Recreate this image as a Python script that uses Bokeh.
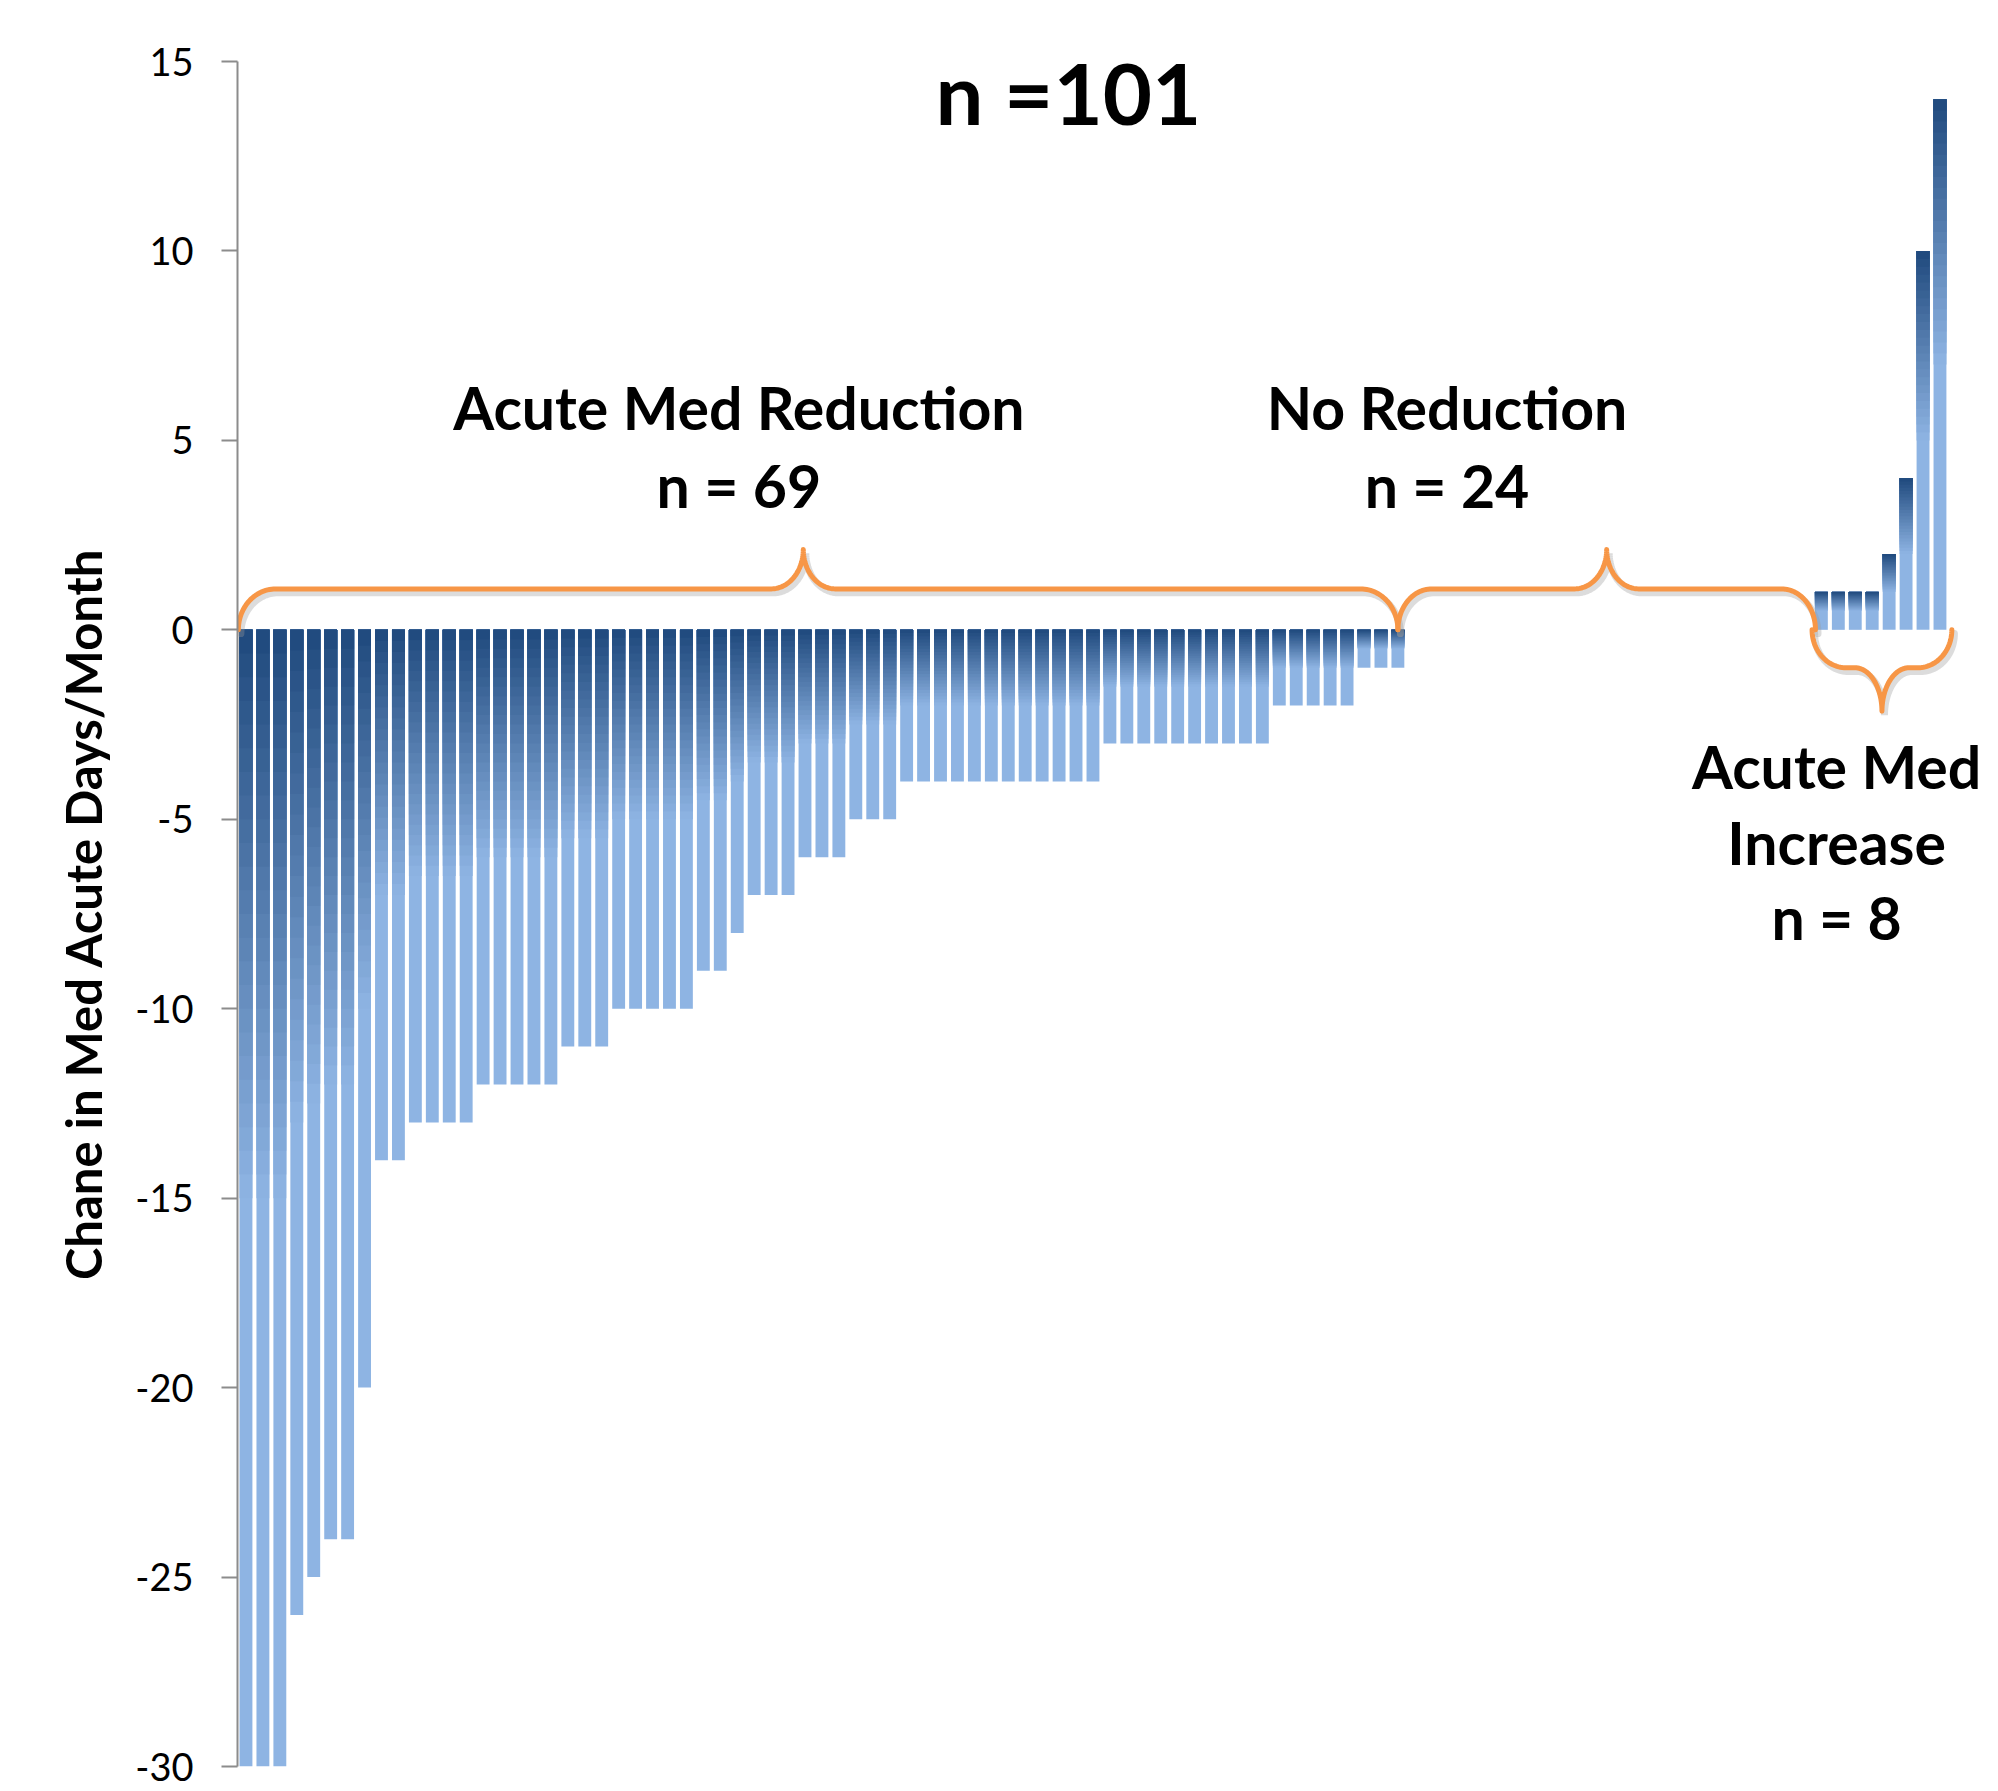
import numpy as np
from bokeh.plotting import figure
from bokeh.models import Range1d, FixedTicker, Label
from bokeh.embed import file_html
from bokeh.resources import INLINE

# ---------------- data ----------------
reduction_values = ([-30] * 3 + [-26, -25] + [-24] * 2 + [-20] + [-14] * 2 + [-13] * 4 +
                    [-12] * 5 + [-11] * 3 + [-10] * 5 + [-9] * 2 + [-8] + [-7] * 3 +
                    [-6] * 3 + [-5] * 3 + [-4] * 12 + [-3] * 10 + [-2] * 5 + [-1] * 3)
no_change_values = [0] * 24
increase_values = [1, 1, 1, 1, 2, 4, 10, 14]
values = reduction_values + no_change_values + increase_values

y_ticks = [-30, -25, -20, -15, -10, -5, 0, 5, 10, 15]
y_tick_labels = ["-30", "-25", "-20", "-15", "-10", "-5", "0", "5", "10", "15"]
title_text = "n =101"
y_label = "Chane in Med Acute Days/Month"
group_labels = [["Acute Med Reduction", "n = 69"],
                ["No Reduction", "n = 24"],
                ["Acute Med", "Increase", "n = 8"]]

# ---------------- style ----------------
DARK = np.array([31, 73, 125])
LIGHT = np.array([142, 180, 227])
BRACE = "#F79646"
FONT = "Lato"
BAR_W = 0.76
N_SLICES = 24
PX_X = 16.94  # px per category
FRAME_LEFT, FRAME_TOP, FRAME_BOTTOM = 237, 61, 25
W, H = 1998, 1791

def hexcol(c):
    c = np.clip(np.round(c), 0, 255).astype(int)
    return "#%02x%02x%02x" % tuple(c)

p = figure(width=W, height=H, output_backend="svg", toolbar_location=None,
           x_range=Range1d(0, (W - FRAME_LEFT) / PX_X), y_range=Range1d(-30, 15),
           x_axis_location=None, min_border_left=FRAME_LEFT, min_border_right=0,
           min_border_top=FRAME_TOP, min_border_bottom=FRAME_BOTTOM)
p.outline_line_color = None
p.xgrid.visible = False
p.ygrid.visible = False
p.background_fill_color = "white"
p.border_fill_color = "white"

# ---------------- bars with vertical gradient ----------------
L, R, T, B, C = [], [], [], [], []
for i, v in enumerate(values):
    if v == 0:
        continue
    top, bot = max(v, 0), min(v, 0)
    length = top - bot
    cx = i + 0.5
    L.append(cx - BAR_W / 2); R.append(cx + BAR_W / 2); T.append(top); B.append(bot)
    C.append(hexcol(LIGHT))
    for k in range(N_SLICES):
        t = 1 - (k + 0.5) / N_SLICES  # 1 = light, 0 = dark
        depth = 0.5 * length * (1 - k / N_SLICES)
        L.append(cx - BAR_W / 2); R.append(cx + BAR_W / 2); T.append(top); B.append(top - depth)
        C.append(hexcol(DARK + (LIGHT - DARK) * t))
p.quad(left=L, right=R, top=T, bottom=B, fill_color=C, line_color=None)

# ---------------- braces ----------------
def brace(x0, x1, xt, y_end, y_line, y_tip, rx=2.0, rx_tip=2.0, n=30):
    xs, ys = [], []
    th = np.linspace(0, np.pi / 2, n)
    ry = y_line - y_end
    xs += list(x0 + rx - rx * np.cos(th)); ys += list(y_end + ry * np.sin(th))
    ryt = y_tip - y_line
    xs += list(xt - rx_tip + rx_tip * np.sin(th)); ys += list(y_tip - ryt * np.cos(th))
    xs += list(xt + rx_tip - rx_tip * np.sin(th[::-1])); ys += list(y_tip - ryt * np.cos(th[::-1]))
    xs += list(x1 - rx + rx * np.cos(th[::-1])); ys += list(y_end + ry * np.sin(th[::-1]))
    return xs, ys

n_red = len(reduction_values)
n_zero = len(no_change_values)
n_all = len(values)
braces = [
    (0.05, n_red - 0.5, 33.4, 0.0, 1.08, 2.12, 2.2, 1.9),
    (n_red - 0.5, n_red + n_zero + 0.15, (n_red - 0.5 + n_red + n_zero + 0.15) / 2, 0.0, 1.08, 2.12, 2.0, 1.9),
    (n_red + n_zero - 0.05, n_all + 0.2, (n_red + n_zero + n_all + 0.15) / 2, 0.0, -1.0, -2.15, 2.0, 1.6),
]
for b in braces:
    xs, ys = brace(*b)
    p.line([x + 0.15 for x in xs], [y - 0.1 for y in ys], line_color="#9a9a9a",
           line_width=7, line_alpha=0.35, line_cap="round")
for b in braces:
    xs, ys = brace(*b)
    p.line(xs, ys, line_color=BRACE, line_width=5, line_cap="round", line_join="round")

# ---------------- texts ----------------
label_pos = [(29.6, [5.87, 3.8]), (71.4, [5.87, 3.8]), (94.4, [-3.61, -5.62, -7.6])]
for (x, ys), texts in zip(label_pos, group_labels):
    for y, t in zip(ys, texts):
        p.add_layout(Label(x=x, y=y, text=t, text_font=FONT, text_font_style="bold",
                           text_font_size="59px", text_align="center", text_baseline="middle",
                           text_color="black"))
p.add_layout(Label(x=49.05, y=14.2, text=title_text, text_font=FONT,
                   text_font_style="bold", text_font_size="85px", text_align="center",
                   text_baseline="middle", text_color="black"))

# ---------------- y axis ----------------
ax = p.yaxis[0]
ax.ticker = FixedTicker(ticks=y_ticks)
ax.major_label_overrides = {t: s for t, s in zip(y_ticks, y_tick_labels)}
ax.minor_tick_line_color = None
ax.major_tick_in = 0
ax.major_tick_out = 16
ax.major_tick_line_color = "#8C8C8C"
ax.major_tick_line_width = 2
ax.axis_line_color = "#8C8C8C"
ax.axis_line_width = 2
ax.major_label_standoff = 28
ax.major_label_text_font = FONT
ax.major_label_text_font_size = "38px"
ax.major_label_text_color = "black"
ax.axis_label = y_label
ax.axis_label_text_font = FONT
ax.axis_label_text_font_style = "bold"
ax.axis_label_text_font_size = "49px"
ax.axis_label_text_color = "black"
ax.axis_label_standoff = 20

open("out.html", "w").write(file_html(p, INLINE))
